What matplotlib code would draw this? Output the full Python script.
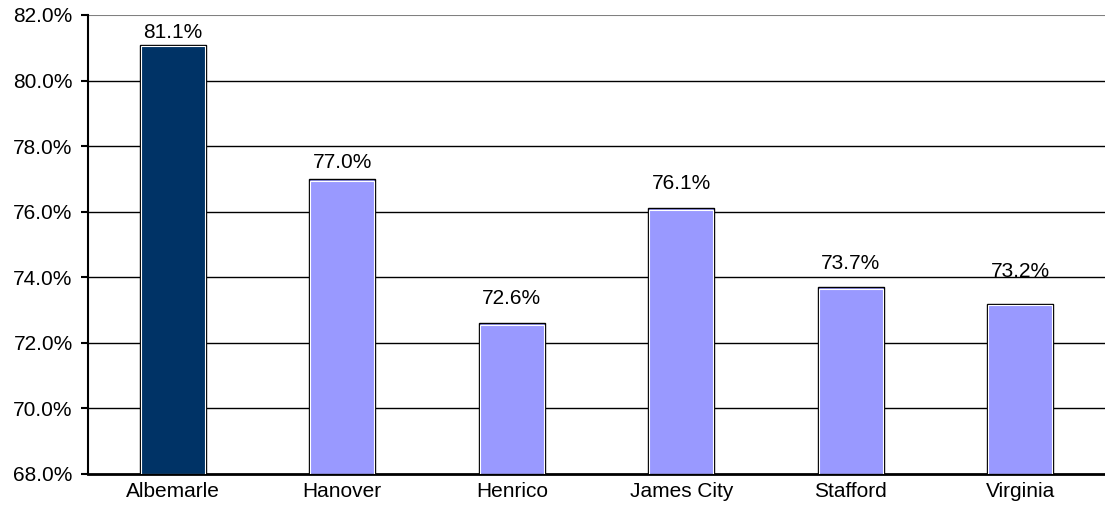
import matplotlib.pyplot as plt
import numpy as np

plt.rcParams['font.family'] = ['Liberation Sans', 'DejaVu Sans']

categories = ["Albemarle", "Hanover", "Henrico", "James City", "Stafford", "Virginia"]
values = [81.1, 77.0, 72.6, 76.1, 73.7, 73.2]
colors = ["#003366", "#9999FF", "#9999FF", "#9999FF", "#9999FF", "#9999FF"]
yticks = [68, 70, 72, 74, 76, 78, 80, 82]

fig = plt.figure(figsize=(11.05, 5.2), dpi=100)
ax = fig.add_axes([88 / 1105, 1 - 474 / 520, 1 - 88 / 1105, (474 - 15) / 520])

x = np.arange(len(categories))
w = 0.39
base = 68
# dark shadow bar, then the coloured bar with a thin white rim
ax.bar(x + 0.006, np.array(values) - base, w, bottom=base, color="black", zorder=2)
ax.bar(x, np.array(values) - base, w, bottom=base, color=colors,
       edgecolor="black", linewidth=1.0, zorder=3)
ax.bar(x, np.array(values) - base - 0.05, w - 0.012, bottom=base, color="none",
       edgecolor="white", linewidth=0.8, zorder=4)

# label gaps above the bars vary in the original
label_pad = [2, 5, 11, 11, 10, 16.5]
for xi, v, p in zip(x, values, label_pad):
    ax.annotate(f"{v:.1f}%", (xi, v), xytext=(0, p), textcoords="offset points",
                ha="center", va="bottom", fontsize=15, zorder=5)

ax.set_xlim(-0.5, len(categories) - 0.5)
ax.set_ylim(68, 82)
ax.set_yticks(yticks)
ax.set_yticklabels([f"{t:.1f}%" for t in yticks], fontsize=15)
ax.set_xticks(x)
ax.set_xticklabels(categories, fontsize=15)
ax.tick_params(axis="x", length=0, pad=6)
ax.tick_params(axis="y", length=5, width=1.5, direction="out", pad=6)

for t in yticks[1:-1]:
    ax.axhline(t, color="black", linewidth=1.0, zorder=1)
ax.axhline(82, color="#808080", linewidth=1.5, zorder=1)

ax.spines["top"].set_visible(False)
ax.spines["right"].set_visible(False)
ax.spines["left"].set_linewidth(1.5)
ax.spines["bottom"].set_linewidth(2)

fig.savefig("out.png", dpi=100)
